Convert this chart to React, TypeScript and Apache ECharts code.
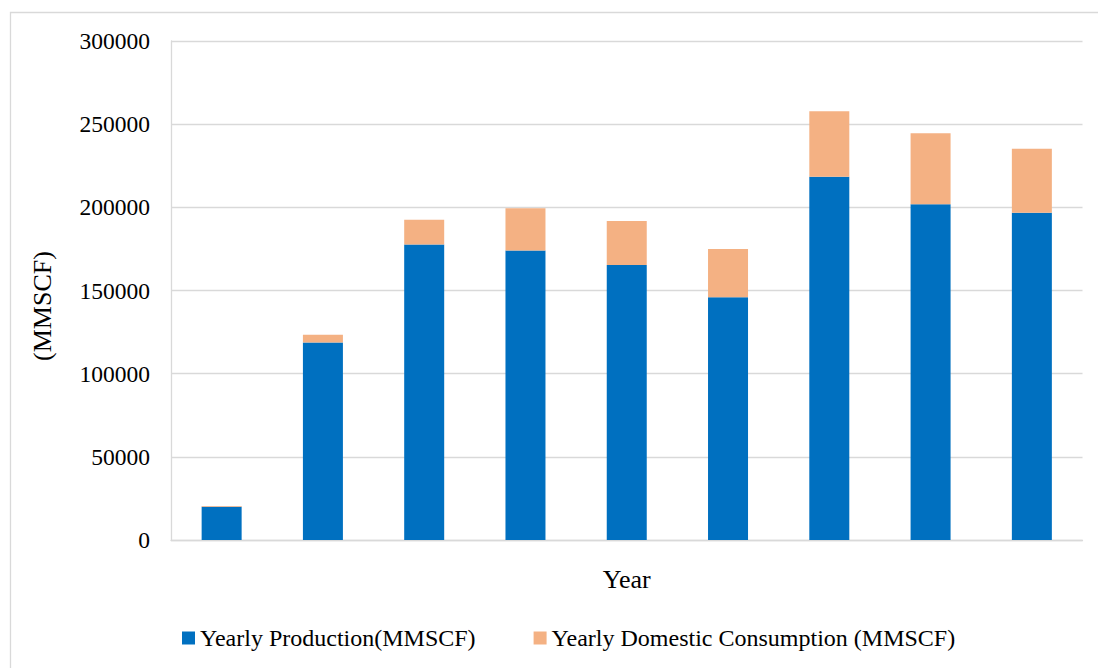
import React, { useEffect, useRef } from "react";
import * as echarts from "echarts";

// Period index for each bar (the axis carries no visible labels)
const categories = ["1", "2", "3", "4", "5", "6", "7", "8", "9"];

// Yearly production (MMSCF)
const production = [20000, 118800, 177600, 174000, 165400, 146000, 218400, 201800, 196800];

// Yearly domestic consumption (MMSCF), stacked above production
const consumption = [500, 4600, 15000, 25400, 26400, 29000, 39400, 42800, 38400];

const seriesNames = ["Yearly Production(MMSCF)", "Yearly Domestic Consumption (MMSCF)"];
const seriesColors = ["#0070C0", "#F4B183"];

const yMin = 0;
const yMax = 300000;
const yStep = 50000;

const FONT = "'Liberation Serif', 'Times New Roman', serif";
const GRID_GREY = "#d9d9d9";

export default function App() {
  const ref = useRef<HTMLDivElement>(null);

  useEffect(() => {
    if (!ref.current) return;
    const chart = echarts.init(ref.current, undefined, { renderer: "svg" });

    chart.setOption({
      animation: false,
      backgroundColor: "#ffffff",
      textStyle: { fontFamily: FONT, color: "#000" },
      grid: { left: 171, right: 15.5, top: 41, bottom: 128, containLabel: false },
      legend: {
        data: seriesNames,
        left: 177,
        top: 620,
        itemWidth: 13,
        itemHeight: 13,
        itemGap: 58,
        icon: "rect",
        textStyle: { fontFamily: FONT, fontSize: 24, color: "#000", lineHeight: 26 },
      },
      xAxis: {
        type: "category",
        data: categories,
        name: "Year",
        nameLocation: "middle",
        nameGap: 26,
        nameTextStyle: { fontFamily: FONT, fontSize: 26, color: "#000" },
        axisLine: { show: true, lineStyle: { color: GRID_GREY, width: 1.3 } },
        axisTick: { show: false },
        axisLabel: { show: false },
        splitLine: { show: false },
      },
      yAxis: {
        type: "value",
        min: yMin,
        max: yMax,
        interval: yStep,
        name: "(MMSCF)",
        nameLocation: "middle",
        nameGap: 116,
        nameRotate: 90,
        nameTextStyle: {
          fontFamily: FONT,
          fontSize: 26,
          color: "#000",
          padding: [0, 31, 0, 0],
        },
        axisLine: { show: true, lineStyle: { color: GRID_GREY, width: 1.3 } },
        axisTick: { show: false },
        axisLabel: {
          fontFamily: FONT,
          fontSize: 23.5,
          color: "#000",
          margin: 21,
          formatter: (v: number) => String(v),
        },
        splitLine: { show: true, lineStyle: { color: GRID_GREY, width: 1.3 } },
      },
      graphic: [
        {
          type: "rect",
          shape: { x: 10.5, y: 12.5, width: 1200, height: 800 },
          style: { fill: "none", stroke: GRID_GREY, lineWidth: 1.3 },
          silent: true,
          z: -10,
        },
      ],
      series: [
        {
          name: seriesNames[0],
          type: "bar",
          stack: "total",
          barWidth: 40,
          data: production,
          itemStyle: { color: seriesColors[0] },
        },
        {
          name: seriesNames[1],
          type: "bar",
          stack: "total",
          barWidth: 40,
          data: consumption,
          itemStyle: { color: seriesColors[1] },
        },
      ],
    });

    return () => chart.dispose();
  }, []);

  return (
    <div
      ref={ref}
      style={{ position: "absolute", left: 0, top: 0, width: 1098, height: 668 }}
    />
  );
}
